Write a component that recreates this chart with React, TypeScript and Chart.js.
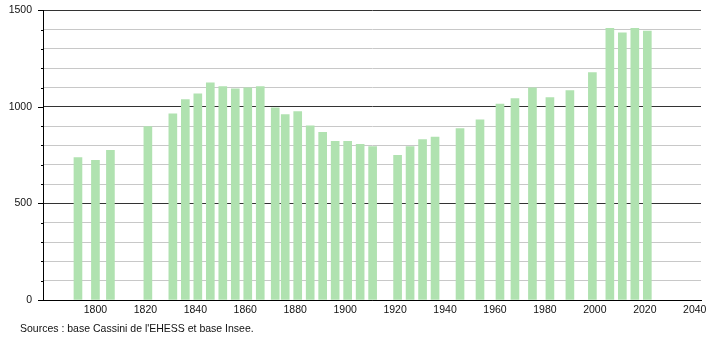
import React, { useEffect, useRef } from "react";
import { Chart, registerables } from "chart.js";

Chart.register(...registerables);

const years = [
  1793, 1800, 1806, 1821, 1831, 1836, 1841, 1846, 1851, 1856, 1861, 1866, 1872,
  1876, 1881, 1886, 1891, 1896, 1901, 1906, 1911, 1921, 1926, 1931, 1936, 1946,
  1954, 1962, 1968, 1975, 1982, 1990, 1999, 2006, 2011, 2016, 2021,
];
const population = [
  737, 723, 775, 898, 964, 1038, 1067, 1124, 1105, 1093, 1098, 1105, 995, 960,
  976, 902, 868, 821, 821, 806, 795, 749, 795, 830, 843, 888, 933, 1015, 1043,
  1099, 1048, 1084, 1178, 1407, 1383, 1407, 1393,
];
const yTickLabels = [0, 500, 1000, 1500];
const xTickLabels = [1800, 1820, 1840, 1860, 1880, 1900, 1920, 1940, 1960, 1980, 2000, 2020, 2040];
const sourceText = "Sources : base Cassini de l'EHESS et base Insee.";

const FONT = "'Liberation Sans', Arial, sans-serif";

export default function App() {
  const ref = useRef<HTMLCanvasElement | null>(null);

  useEffect(() => {
    if (!ref.current) return;
    const tickPlugin = {
      id: "leftTicks",
      afterDraw(chart: any) {
        const y = chart.scales.y;
        const ctx = chart.ctx;
        const left = chart.chartArea.left;
        ctx.save();
        ctx.strokeStyle = "#000";
        ctx.lineWidth = 1;
        for (const t of y.ticks) {
          const py = Math.round(y.getPixelForValue(t.value)) + 0.5;
          const len = yTickLabels.includes(t.value) ? 5 : 2;
          ctx.beginPath();
          ctx.moveTo(left - len, py);
          ctx.lineTo(left, py);
          ctx.stroke();
        }
        ctx.restore();
      },
    };

    const chart = new Chart(ref.current, {
      type: "bar",
      data: {
        datasets: [
          {
            data: years.map((yr, i) => ({ x: yr, y: population[i] })),
            backgroundColor: "#b0e2b0",
            borderWidth: 0,
            barThickness: 8,
          },
        ],
      },
      options: {
        responsive: false,
        animation: false,
        devicePixelRatio: 1,
        layout: { padding: { top: 0, right: 9, left: 0, bottom: 0 } },
        plugins: {
          legend: { display: false },
          tooltip: { enabled: false },
        },
        scales: {
          x: {
            type: "linear",
            offset: false,
            min: 1779,
            max: 2042.5,
            afterFit: (s: any) => {
              s.height = 40;
              s.paddingRight = 0;
              s.paddingLeft = 0;
            },
            grid: { display: true, drawOnChartArea: false, drawTicks: false, offset: false },
            border: { display: true, color: "#000", width: 1 },
            ticks: {
              stepSize: 20,
              includeBounds: false,
              autoSkip: false,
              maxRotation: 0,
              padding: 4,
              color: "#111",
              font: { family: FONT, size: 10.5 },
              callback: (v: any) => (xTickLabels.includes(v) ? String(v) : ""),
            },
          },
          y: {
            min: 0,
            max: 1500,
            afterFit: (s: any) => {
              s.width = 43;
            },
            grid: {
              drawTicks: true,
              tickLength: 7,
              tickColor: "rgba(0,0,0,0)",
              color: (c: any) => (yTickLabels.includes(c.tick?.value) ? "#333" : "#c8c8c8"),
              lineWidth: 1,
            },
            border: { display: true, color: "#000", width: 1 },
            ticks: {
              stepSize: 100,
              autoSkip: false,
              padding: 4,
              color: "#111",
              font: { family: FONT, size: 10.5 },
              callback: (v: any) => (yTickLabels.includes(v) ? String(v) : ""),
            },
          },
        },
      },
      plugins: [tickPlugin],
    });
    return () => chart.destroy();
  }, []);

  return (
    <div style={{ position: "fixed", left: 0, top: 0, width: 710, height: 340, background: "#fff" }}>
      <canvas ref={ref} width={710} height={340} style={{ display: "block" }} />
      <div
        style={{
          position: "absolute",
          left: 20,
          top: 322,
          fontFamily: FONT,
          fontSize: 10.5,
          color: "#111",
          whiteSpace: "nowrap",
        }}
      >
        {sourceText}
      </div>
    </div>
  );
}
